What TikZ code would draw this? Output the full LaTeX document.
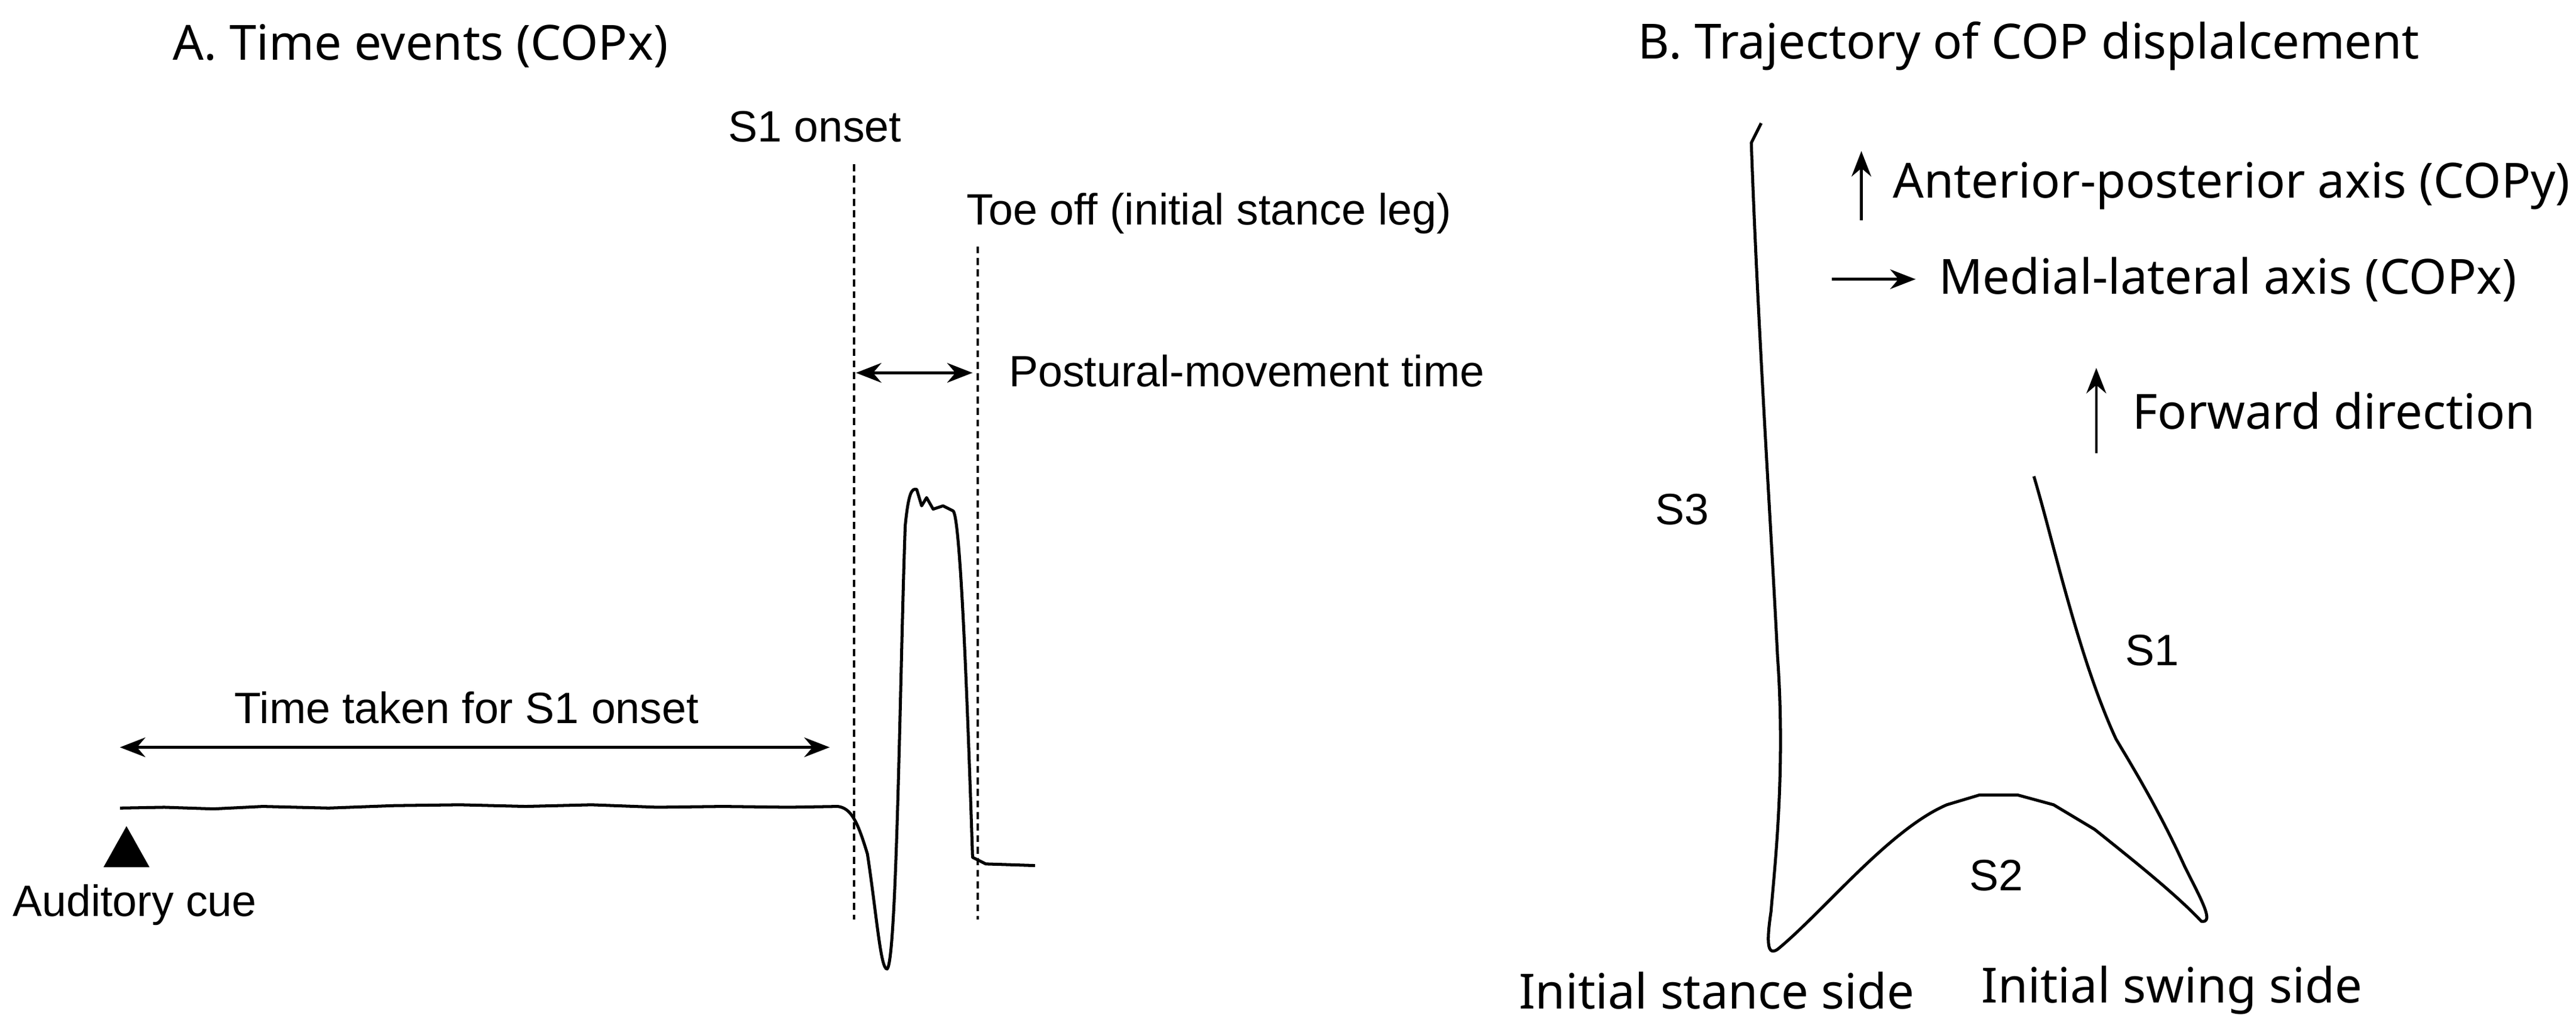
\documentclass[tikz,border=0pt]{standalone}
\usepackage{fontspec}
\setmainfont{Liberation Sans}
\newfontfamily\headfont{Noto Sans}
\usetikzlibrary{arrows.meta}
\begin{document}
\begin{tikzpicture}[x=0.05cm,y=-0.05cm,
  lab/.style={font=\fontsize{38}{44}\selectfont,inner sep=0},
  head/.style={font=\headfont\fontsize{42}{48}\selectfont,inner sep=0},
  blab/.style={font=\headfont\fontsize{42}{48}\selectfont,inner sep=0},
  vline/.style={line width=2pt,dash pattern=on 6pt off 4pt},
  arr/.style={line width=2.4pt,-{Stealth[length=22pt,width=17pt]}},
  darr/.style={line width=2.4pt,{Stealth[length=22pt,width=17pt]}-{Stealth[length=22pt,width=17pt]}},
  trace/.style={line width=2.6pt,line join=round}]
\useasboundingbox (0,0) rectangle (1568,627);
% Panel A
\node[head] (ha) at (256,28) {A. Time events (COPx)};
\node[lab] (s1on) at (496,77) {S1 onset};
\node[lab] (toe) at (736,130) {Toe off (initial stance leg)};
\coordinate (d1t) at (520,100); \coordinate (d1b) at (520,560);
\coordinate (d2t) at (595,150); \coordinate (d2b) at (595,560);
\draw[vline] (d1t) -- (d1b);
\draw[vline] (d2t) -- (d2b);
\coordinate (pa) at (521,227); \coordinate (pb) at (592,227);
\draw[darr] (pa) -- (pb);
\node[lab,anchor=west] (pmt) at (614,226) {Postural-movement time};
\node[lab] (tt) at (284,431) {Time taken for S1 onset};
\coordinate (ta) at (73,455); \coordinate (tb) at (505,455);
\draw[darr] (ta) -- (tb);
\draw[trace] (73,492) -- (100,491.5) -- (130,492.5) -- (160,491) -- (200,492) -- (240,490.5) -- (280,490) -- (320,491) -- (360,490) -- (400,491.5) -- (440,491) -- (480,491.5) -- (510,491)
  .. controls (518,492) and (522,500) .. (528,520) .. controls (534,560) and (536,590) .. (540,590)
  .. controls (546,585) and (548,400) .. (551,320) .. controls (553,300) and (555,297) .. (558,298)
  -- (561,308) -- (564,303) -- (568,310) -- (574,308) -- (580,311)
  .. controls (584,312) and (588,400) .. (592,522) -- (600,526) -- (630,527);
\fill (77,503) -- (91,528) -- (63,528) -- cycle;
\node[lab] (cue) at (82,551) {Auditory cue};
% Panel B
\node[head] (hb) at (1235,28) {B. Trajectory of COP displalcement};
\draw[trace] (1072,75) -- (1066,87) .. controls (1070,200) and (1078,320) .. (1082,400)
  .. controls (1087,470) and (1080,530) .. (1078,555) .. controls (1075,575) and (1076,582) .. (1082,578)
  .. controls (1110,555) and (1150,505) .. (1185,490) -- (1205,484) -- (1228,484) -- (1250,490) -- (1275,505)
  .. controls (1300,525) and (1325,545) .. (1340,561) .. controls (1348,562) and (1340,548) .. (1330,528)
  .. controls (1315,495) and (1300,470) .. (1288,450) .. controls (1265,400) and (1250,330) .. (1238,290);
\node[lab] (s3) at (1024,310) {S3};
\node[lab] (s1) at (1310,396) {S1};
\node[lab] (s2) at (1215,533) {S2};
\node[blab] (ist) at (1045,603) {Initial stance side};
\node[blab] (isw) at (1322,603) {Initial swing side};
\coordinate (a1b) at (1133,134); \coordinate (a1t) at (1133,92);
\draw[arr] (a1b) -- (a1t);
\node[blab,anchor=west] (ap) at (1152,113) {Anterior-posterior axis (COPy)};
\coordinate (a2l) at (1115,170); \coordinate (a2r) at (1166,170);
\draw[arr] (a2l) -- (a2r);
\node[blab,anchor=west] (ml) at (1180,170) {Medial-lateral axis (COPx)};
\coordinate (a3b) at (1276,276); \coordinate (a3t) at (1276,224);
\draw[arr] (a3b) -- (a3t);
\node[blab,anchor=west] (fd) at (1298,250) {Forward direction};
\end{tikzpicture}
\end{document}
